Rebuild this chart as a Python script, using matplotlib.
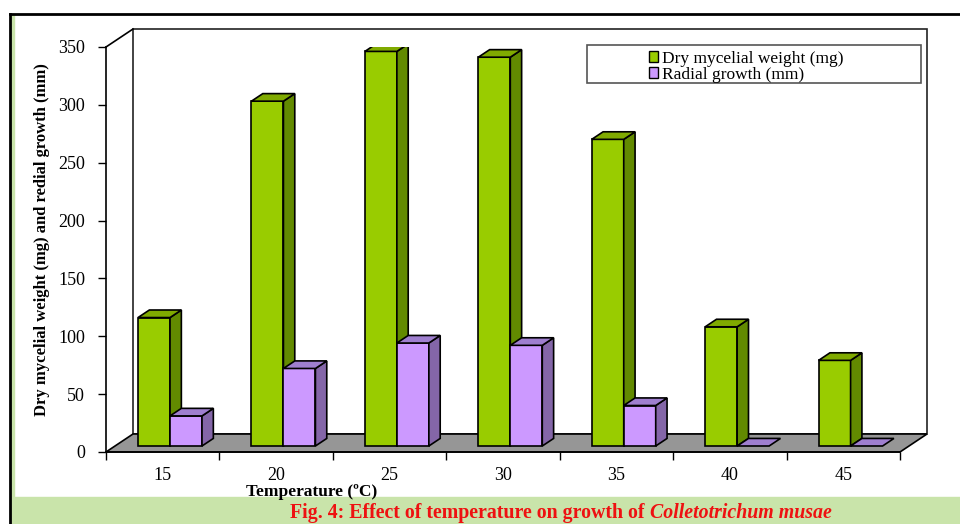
import matplotlib.pyplot as plt
from matplotlib.patches import Polygon, Rectangle, Patch
from matplotlib.lines import Line2D

# data
temps = ['15', '20', '25', '30', '35', '40', '45']
dry_weight = [111, 298, 341, 336, 265, 103, 74]
radial_growth = [26, 67, 89, 87, 35, 0, 0]

plt.rcParams['font.family'] = ['Liberation Serif', 'DejaVu Serif']

W, H = 960, 524
fig = plt.figure(figsize=(W / 100, H / 100), dpi=100)

def fx(px):
    return px / W

def fy(py):
    return 1 - py / H

# outer frame and green caption band
fig.patches.append(Rectangle((fx(11), 0), 1, fy(497), transform=fig.transFigure,
                             color='#c9e4aa', zorder=0))
fig.patches.append(Rectangle((fx(11), fy(497)), fx(3), fy(14) - fy(497),
                             transform=fig.transFigure, color='#c9e4aa', zorder=0))
fig.lines.append(Line2D([fx(10), 1], [fy(14), fy(14)], transform=fig.transFigure,
                        color='black', lw=2))
fig.lines.append(Line2D([fx(10), fx(10)], [fy(14), 0], transform=fig.transFigure,
                        color='black', lw=2))

ax = fig.add_axes([fx(106), fy(452), fx(900) - fx(106), fy(47) - fy(452)])
ax.set_xlim(-0.5, len(temps) - 0.5)
ax.set_ylim(0, 350)
ax.patch.set_alpha(0)

# depth of the 3d box in data units (27 px right, 18 px up)
ddx = 27 / (794 / 7)
ddy = 18 / (405 / 350)
d0 = 1 / 3      # front of the bars
dd = 0.42       # depth of the bars
w = 0.282
n = len(temps)

# back wall and floor
ax.add_patch(Rectangle((-0.5 + ddx, ddy), n, 350, facecolor='white', edgecolor='#222222',
                       lw=1.2, zorder=0, clip_on=False))
ax.add_patch(Polygon([(-0.5, 0), (n - 0.5, 0), (n - 0.5 + ddx, ddy), (-0.5 + ddx, ddy)],
                     closed=True, facecolor='#969696', edgecolor='black', lw=1.2,
                     zorder=1, clip_on=False))
ax.plot([-0.5, -0.5 + ddx], [350, 350 + ddy], color='black', lw=1.2, clip_on=False)

def bar3d(xl, v, front, side, top, z):
    x0 = xl + d0 * ddx
    y0 = d0 * ddy
    x1 = x0 + w
    ex, ey = dd * ddx, dd * ddy
    if v > 0:
        ax.bar(x0, v, width=w, bottom=y0, align='edge', color=front,
               edgecolor='black', lw=1.2, zorder=z)
        ax.add_patch(Polygon([(x1, y0), (x1 + ex, y0 + ey), (x1 + ex, y0 + v + ey), (x1, y0 + v)],
                             closed=True, facecolor=side, edgecolor='black', lw=1.2, zorder=z))
    ax.add_patch(Polygon([(x0, y0 + v), (x1, y0 + v), (x1 + ex, y0 + v + ey), (x0 + ex, y0 + v + ey)],
                         closed=True, facecolor=top, edgecolor='black', lw=1.2, zorder=z))

for i in range(n):
    bar3d(i - w - 0.015, dry_weight[i], '#99cc00', '#628a00', '#80aa00', 2 + 2 * i)
    bar3d(i - 0.015, radial_growth[i], '#cc99ff', '#8466a8', '#9f7fcf', 3 + 2 * i)

# axes, ticks
for s in ['top', 'right']:
    ax.spines[s].set_visible(False)
ax.spines['left'].set_linewidth(1.2)
ax.spines['bottom'].set_linewidth(1.2)
ax.set_yticks(range(0, 351, 50))
ax.tick_params(axis='y', length=6, width=1, pad=9, labelsize=13)
ax.set_xticks([i - 0.5 for i in range(n + 1)])
ax.set_xticklabels([])
ax.set_xticks(range(n), minor=True)
ax.set_xticklabels(temps, minor=True)
ax.tick_params(axis='x', which='major', length=6, width=1)
ax.tick_params(axis='x', which='minor', length=0, pad=11, labelsize=13)

fig.text(fx(312), fy(492), 'Temperature (ºC)', ha='center', va='center',
         fontsize=12.5, fontweight='bold')
fig.text(fx(42), fy(240), 'Dry mycelial weight (mg) and redial growth (mm)', ha='center',
         va='center', rotation=90, fontsize=12, fontweight='bold')

# legend
fig.patches.append(Rectangle((fx(587), fy(83)), fx(921) - fx(587), fy(45) - fy(83),
                             transform=fig.transFigure, facecolor='white',
                             edgecolor='#555555', lw=1.2, zorder=5))
handles = [Patch(facecolor='#99cc00', edgecolor='black'),
           Patch(facecolor='#cc99ff', edgecolor='black')]
leg = fig.legend(handles, ['Dry mycelial weight (mg)', 'Radial growth (mm)'],
                 loc='upper left', bbox_to_anchor=(fx(640), fy(42)), frameon=False,
                 fontsize=12.5, handlelength=0.55, handleheight=0.55, handletextpad=0.2,
                 labelspacing=0.0, borderpad=0.0)
leg.set_zorder(6)

# caption: plain part then italic species name right after it
t1 = fig.text(fx(290), fy(518), 'Fig. 4: Effect of temperature on growth of ', color='#ee1111',
              fontsize=14.3, fontweight='bold', va='baseline')
fig.canvas.draw()
x_end = t1.get_window_extent().x1 / W
fig.text(x_end, fy(518), 'Colletotrichum musae', color='#ee1111', fontsize=14.3,
         fontweight='bold', fontstyle='italic', va='baseline')

fig.savefig('out.png', dpi=100)
